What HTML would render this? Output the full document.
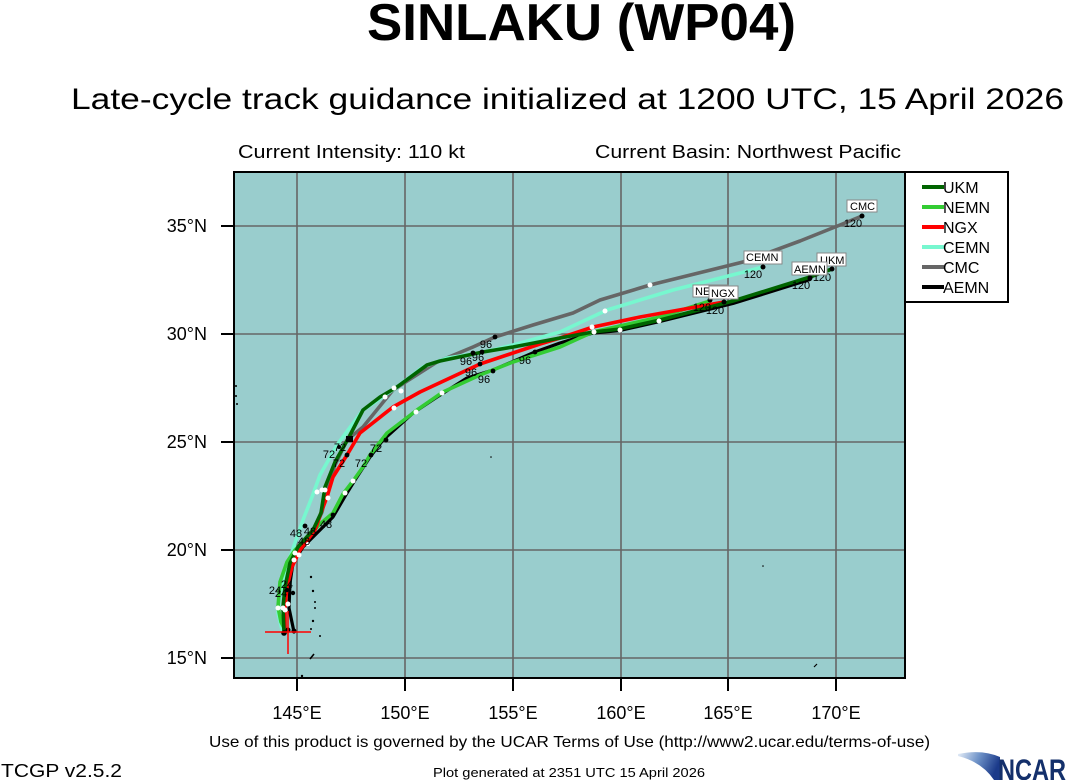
<!DOCTYPE html>
<html><head><meta charset="utf-8"><style>
html,body{margin:0;padding:0;background:#fff;}
svg{display:block;}
text{font-family:"Liberation Sans",Arial,sans-serif;}
</style></head><body>
<svg width="1066" height="780" viewBox="0 0 1066 780" xmlns="http://www.w3.org/2000/svg">
<defs>
<clipPath id="pc"><rect x="234" y="172" width="671" height="506"/></clipPath>
<linearGradient id="sw" x1="0" y1="0" x2="1" y2="0.3">
<stop offset="0" stop-color="#e6eef8"/><stop offset="0.5" stop-color="#6f93c8"/><stop offset="1" stop-color="#1b3a8a"/>
</linearGradient>
</defs>
<rect width="1066" height="780" fill="#fff"/>
<!-- titles -->
<text x="367" y="40" font-size="52" font-weight="bold" textLength="429" lengthAdjust="spacingAndGlyphs">SINLAKU (WP04)</text>
<text x="71" y="109" font-size="30" textLength="993" lengthAdjust="spacingAndGlyphs">Late-cycle track guidance initialized at 1200 UTC, 15 April 2026</text>
<text x="238" y="158" font-size="18" textLength="227" lengthAdjust="spacingAndGlyphs">Current Intensity: 110 kt</text>
<text x="595" y="158" font-size="18" textLength="306" lengthAdjust="spacingAndGlyphs">Current Basin: Northwest Pacific</text>

<!-- plot background -->
<rect x="234" y="172" width="671" height="506" fill="#99cdcd"/>
<g clip-path="url(#pc)">
<g stroke="#666" stroke-width="1.6" fill="none">
<line x1="297" y1="172" x2="297" y2="678"/>
<line x1="405" y1="172" x2="405" y2="678"/>
<line x1="513" y1="172" x2="513" y2="678"/>
<line x1="621" y1="172" x2="621" y2="678"/>
<line x1="728" y1="172" x2="728" y2="678"/>
<line x1="836" y1="172" x2="836" y2="678"/>
<line x1="234" y1="226" x2="905" y2="226"/>
<line x1="234" y1="334" x2="905" y2="334"/>
<line x1="234" y1="442" x2="905" y2="442"/>
<line x1="234" y1="550" x2="905" y2="550"/>
<line x1="234" y1="658" x2="905" y2="658"/>
</g>
<!-- islands -->
<g fill="#000">
<circle cx="311" cy="577" r="1.2"/><circle cx="313" cy="591" r="1.2"/><circle cx="315" cy="602" r="1"/>
<circle cx="315" cy="608" r="1"/><circle cx="313" cy="621" r="1.2"/><circle cx="311" cy="629" r="1"/>
<circle cx="320" cy="636" r="1"/><circle cx="302" cy="676" r="1.2"/>
<circle cx="491" cy="457" r="0.8"/><circle cx="763" cy="566" r="0.8"/>
<circle cx="236" cy="386" r="1"/><circle cx="236" cy="396" r="1"/><circle cx="237" cy="404" r="1"/>
</g>
<path d="M310,659 L314,654" stroke="#000" stroke-width="1.6"/>
<path d="M814,667 L817,664" stroke="#000" stroke-width="1.2"/>

<!-- tracks -->
<g fill="none" stroke-width="3.6" stroke-linejoin="round" stroke-linecap="round">
<polyline stroke="#666666" points="285,632 284,607 287,585 292,565 300,548 313,532 322,512 327,490 335,465 347,440 363,427 393,390 437,362 473,347 495,337 533,325 573,313 600,300 650,285 743,262 800,241 840,225 862,216"/>
<polyline stroke="#77f7cf" points="282,630 278,613 280,593 288,563 295,543 303,520 312,497 320,475 337,445 363,410 397,387 423,367 447,358 480,353 513,345 560,332 607,310 673,290 740,273 763,267"/>
<polyline stroke="#000000" stroke-width="3.2" points="294,632 289,608 290,583 293,563 303,547 317,533 333,517 347,493 355,480 370,457 383,440 413,413 437,397 467,378 493,370 535,352 560,343 593,333 620,330.5 660,321.5 733,303.5 810,279.5"/>
<polyline stroke="#33cc33" points="286,632 281,622 278,607 280,582 287,562 295,550 305,540 320,524 333,513 343,494 353,481 363,467 370,455 387,433 417,410 443,392 480,375 513,362 560,347 593,332 660,317 710,301"/>
<polyline stroke="#ff0000" points="285,632 285,607 287,587 292,567 300,550 315,530 322,510 327,497 333,477 347,455 360,433 393,407 420,392 480,364 513,353 540,344 560,338 593,327 640,317 724,302"/>
<polyline stroke="#006400" points="284,632 283,607 285,587 290,563 298,547 313,530 321,513 325,487 335,462 348,439 363,410 380,397 397,387 427,365 440,361 483,352 513,347 560,338 593,332 620,329 660,320 733,301 810,277 832,269"/>
</g>

<!-- white dots -->
<g fill="#fff">
<circle cx="385" cy="397" r="2.5"/><circle cx="394" cy="388" r="2.5"/><circle cx="401" cy="391" r="2.5"/>
<circle cx="394" cy="408" r="2.5"/><circle cx="416" cy="412" r="2.5"/><circle cx="442" cy="393" r="2.5"/>
<circle cx="592" cy="327" r="2.5"/><circle cx="594" cy="332" r="2.5"/><circle cx="620" cy="330" r="2.5"/>
<circle cx="659" cy="321" r="2.5"/><circle cx="605" cy="311" r="2.5"/><circle cx="650" cy="285" r="2.5"/>
<circle cx="317" cy="492" r="2.5"/><circle cx="322" cy="490" r="2.5"/><circle cx="325" cy="490" r="2.5"/>
<circle cx="328" cy="498" r="2.5"/><circle cx="345" cy="493" r="2.5"/><circle cx="353" cy="481" r="2.5"/>
<circle cx="295" cy="553" r="2.5"/><circle cx="294" cy="560" r="2.5"/><circle cx="299" cy="555" r="2.5"/>
<circle cx="308" cy="544" r="2"/>
<circle cx="278" cy="608" r="2.5"/><circle cx="283" cy="608" r="2.5"/><circle cx="288" cy="604" r="2.5"/><circle cx="285" cy="610" r="2.5"/>
</g>
<!-- black dots -->
<g fill="#000">
<circle cx="495" cy="337" r="2.4"/><circle cx="482" cy="352" r="2.4"/><circle cx="473" cy="353" r="2.4"/>
<circle cx="480" cy="364" r="2.4"/><circle cx="493" cy="371" r="2.4"/><circle cx="535" cy="352" r="2.4"/>
<rect x="346" y="436" width="7" height="6"/><circle cx="347" cy="455" r="2.4"/><circle cx="371" cy="455" r="2.4"/>
<circle cx="386" cy="440" r="2.4"/><circle cx="339" cy="447" r="2"/>
<circle cx="305" cy="526" r="2.4"/><circle cx="333" cy="515" r="2.4"/>
<circle cx="287" cy="590" r="2.2"/><circle cx="293" cy="593" r="2.2"/>
<circle cx="284" cy="633" r="2.8"/><circle cx="288" cy="630" r="2.5"/><circle cx="294" cy="631" r="2.5"/>
<circle cx="862" cy="216" r="2.5"/><circle cx="763" cy="267" r="2.5"/><circle cx="832" cy="269" r="2.5"/>
<circle cx="810" cy="278" r="2.5"/><circle cx="710" cy="300" r="2.5"/><circle cx="724" cy="302" r="2.5"/>
</g>
<!-- hour labels -->
<g font-size="11" fill="#000" text-anchor="middle">
<text x="486" y="348">96</text><text x="466" y="365">96</text><text x="478" y="361">96</text>
<text x="471" y="376">96</text><text x="484" y="383">96</text><text x="525" y="364">96</text>
<text x="340" y="451">72</text><text x="329" y="458">72</text><text x="339" y="467">72</text>
<text x="376" y="452">72</text><text x="361" y="467">72</text>
<text x="296" y="537">48</text><text x="310" y="535">48</text><text x="326" y="528">48</text><text x="304" y="545">48</text>
<text x="275" y="594">24</text><text x="281" y="597">24</text><text x="287" y="588">24</text>
<text x="853" y="227">120</text><text x="753" y="278">120</text><text x="822" y="281">120</text>
<text x="801" y="289">120</text><text x="702" y="311">120</text><text x="715" y="314">120</text>
</g>
<!-- end labels -->
<g font-size="11" fill="#000">
<rect x="847" y="200" width="30" height="12" fill="#fff" stroke="#888" stroke-width="1"/>
<text x="850" y="210">CMC</text>
<rect x="744" y="251" width="38" height="13" fill="#fff" stroke="#888" stroke-width="1"/>
<text x="746" y="261">CEMN</text>
<rect x="817" y="253" width="29" height="13" fill="#fff" stroke="#888" stroke-width="1"/>
<text x="820" y="264">UKM</text>
<rect x="792" y="262" width="35" height="13" fill="#fff" stroke="#888" stroke-width="1"/>
<text x="794" y="273">AEMN</text>
<rect x="693" y="285" width="35" height="12" fill="#fff" stroke="#888" stroke-width="1"/>
<text x="695" y="295">NEMN</text>
<rect x="709" y="286" width="29" height="13" fill="#fff" stroke="#888" stroke-width="1"/>
<text x="711" y="297">NGX</text>
</g>
<!-- cross -->
<g stroke="#ff0000" stroke-width="1.5">
<line x1="265" y1="632" x2="311" y2="632"/>
<line x1="288" y1="611" x2="288" y2="654"/>
</g>
</g>
<!-- frame -->
<rect x="234" y="172" width="671" height="506" fill="none" stroke="#000" stroke-width="2"/>
<g stroke="#000" stroke-width="2">
<line x1="221" y1="226" x2="234" y2="226"/><line x1="221" y1="334" x2="234" y2="334"/>
<line x1="221" y1="442" x2="234" y2="442"/><line x1="221" y1="550" x2="234" y2="550"/>
<line x1="221" y1="658" x2="234" y2="658"/>
<line x1="297" y1="678" x2="297" y2="691"/><line x1="405" y1="678" x2="405" y2="691"/>
<line x1="513" y1="678" x2="513" y2="691"/><line x1="621" y1="678" x2="621" y2="691"/>
<line x1="728" y1="678" x2="728" y2="691"/><line x1="836" y1="678" x2="836" y2="691"/>
</g>
<g font-size="18" fill="#000" text-anchor="end">
<text x="207" y="232">35°N</text><text x="207" y="340">30°N</text><text x="207" y="448">25°N</text>
<text x="207" y="556">20°N</text><text x="207" y="664">15°N</text>
</g>
<g font-size="18" fill="#000" text-anchor="middle">
<text x="297" y="719">145°E</text><text x="405" y="719">150°E</text><text x="513" y="719">155°E</text>
<text x="621" y="719">160°E</text><text x="728" y="719">165°E</text><text x="836" y="719">170°E</text>
</g>
<!-- legend -->
<rect x="905" y="172" width="103" height="130" fill="#fff" stroke="#000" stroke-width="2"/>
<g stroke-width="4">
<line x1="922" y1="187" x2="944" y2="187" stroke="#006400"/>
<line x1="922" y1="207" x2="944" y2="207" stroke="#33cc33"/>
<line x1="922" y1="227" x2="944" y2="227" stroke="#ff0000"/>
<line x1="922" y1="247" x2="944" y2="247" stroke="#77f7cf"/>
<line x1="922" y1="267" x2="944" y2="267" stroke="#666666"/>
<line x1="922" y1="287" x2="944" y2="287" stroke="#000000"/>
</g>
<g font-size="16" fill="#000">
<text x="943" y="193">UKM</text><text x="943" y="213">NEMN</text><text x="943" y="233">NGX</text>
<text x="943" y="253">CEMN</text><text x="943" y="273">CMC</text><text x="943" y="293">AEMN</text>
</g>
<!-- footer -->
<text x="209" y="747" font-size="16" textLength="721" lengthAdjust="spacingAndGlyphs">Use of this product is governed by the UCAR Terms of Use (http://www2.ucar.edu/terms-of-use)</text>
<text x="433" y="777" font-size="13" textLength="272" lengthAdjust="spacingAndGlyphs">Plot generated at 2351 UTC   15 April 2026</text>
<text x="1" y="777" font-size="18" textLength="121" lengthAdjust="spacingAndGlyphs">TCGP v2.5.2</text>
<path d="M958,754 Q982,749 1000,757 L1000,780 L994,780 Q982,762 958,756 Z" fill="url(#sw)"/>
<text x="998" y="780" font-size="30" font-weight="bold" fill="#14306b" textLength="68" lengthAdjust="spacingAndGlyphs">NCAR</text>
</svg>
</body></html>
